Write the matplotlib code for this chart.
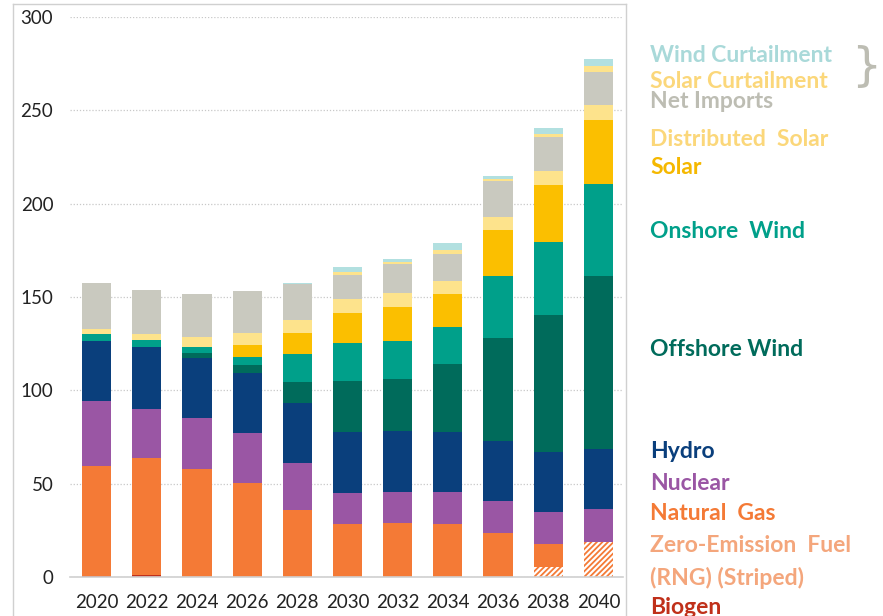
import matplotlib.pyplot as plt
from matplotlib.lines import Line2D


years = ["2020", "2022", "2024", "2026", "2028", "2030", "2032", "2034", "2036", "2038", "2040"]

biogen = [0.8, 1.2, 0, 0, 0, 0, 0, 0, 0, 0, 0]
zero_emission_fuel = [0, 0, 0, 0, 0, 0, 0, 0, 0, 5.3, 19.0]
natural_gas = [58.7, 62.9, 58.2, 50.2, 36.0, 28.3, 28.9, 28.3, 23.5, 12.5, 0]
nuclear = [34.8, 26.2, 26.8, 26.8, 24.9, 17.0, 16.9, 17.1, 17.5, 17.3, 17.4]
hydro = [32.2, 32.7, 32.6, 32.1, 32.5, 32.4, 32.6, 32.5, 31.9, 31.7, 32.2]
offshore_wind = [0, 0, 2.2, 4.4, 11.2, 27.6, 27.6, 36.2, 54.9, 73.5, 92.5]
onshore_wind = [3.9, 4.2, 3.5, 4.5, 14.8, 20.2, 20.5, 19.6, 33.3, 39.2, 49.6]
solar = [0, 0, 0, 6.2, 11.6, 16.0, 18.2, 17.8, 24.6, 30.3, 34.2]
distributed_solar = [2.4, 2.9, 5.4, 6.8, 6.9, 7.2, 7.2, 7.1, 7.1, 7.5, 7.7]
net_imports = [24.7, 23.9, 23.1, 22.2, 19.3, 13.3, 15.5, 14.6, 19.1, 18.3, 17.8]
solar_curtailment = [0, 0, 0, 0, 0, 1.3, 1.4, 2.2, 1.5, 1.8, 3.0]
wind_curtailment = [0, 0, 0, 0, 0.5, 2.8, 1.6, 3.5, 1.2, 3.2, 4.1]

y_ticks = [0, 50, 100, 150, 200, 250, 300]

# (values, bar colour, hatched)
layers = [
    (biogen, "#c0301a", False),
    (zero_emission_fuel, "#f47a36", True),
    (natural_gas, "#f47a36", False),
    (nuclear, "#9a56a4", False),
    (hydro, "#0a3f7c", False),
    (offshore_wind, "#006b5b", False),
    (onshore_wind, "#00a08a", False),
    (solar, "#fbbf00", False),
    (distributed_solar, "#fde38c", False),
    (net_imports, "#c9c9bf", False),
    (solar_curtailment, "#fde38c", False),
    (wind_curtailment, "#b2e0e0", False),
]

# (label, text colour, y pixel centre)
labels = [
    ("Wind Curtailment", "#a9d9d9", 56),
    ("Solar Curtailment", "#fbd77a", 81),
    ("Net Imports", "#bdbdb3", 101),
    ("Distributed  Solar", "#fbd77a", 140),
    ("Solar", "#f5b800", 168),
    ("Onshore  Wind", "#00a08a", 231),
    ("Offshore Wind", "#006b5b", 349),
    ("Hydro", "#0a3f7c", 451),
    ("Nuclear", "#9a56a4", 483),
    ("Natural  Gas", "#f47a36", 514),
    ("Zero-Emission  Fuel", "#f4a67c", 546),
    ("(RNG) (Striped)", "#f4a67c", 578),
    ("Biogen", "#c0301a", 607),
]


def main() -> None:
    plt.rcParams["font.family"] = ["Lato", "DejaVu Sans"]
    plt.rcParams["hatch.linewidth"] = 1.3

    W, H = 883, 616
    fig = plt.figure(figsize=(W / 100, H / 100), dpi=100)
    ax = fig.add_axes([70 / W, (H - 577.3) / H, (623 - 70) / W, (577.3 - 16.7) / H])

    x = list(range(len(years)))
    bottom = [0.0] * len(years)
    for values, color, hatched in layers:
        if hatched:
            ax.bar(x, values, bottom=bottom, width=0.58, color="white",
                   edgecolor=color, hatch="//////", linewidth=0)
        else:
            ax.bar(x, values, bottom=bottom, width=0.58, color=color, linewidth=0)
        bottom = [b + v for b, v in zip(bottom, values)]

    ax.set_xlim(-0.53, 10.49)
    ax.set_ylim(0, 300)
    ax.set_yticks(y_ticks)
    ax.set_xticks(x)
    ax.set_xticklabels(years)
    ax.tick_params(axis="both", length=0, labelsize=13.5, colors="#222222")
    ax.tick_params(axis="y", pad=12)
    ax.tick_params(axis="x", pad=12)
    ax.grid(axis="y", color="#c8c8c8", linestyle=(0, (1, 1.5)), linewidth=0.9)
    ax.set_axisbelow(True)
    for side in ["left", "right", "top"]:
        ax.spines[side].set_visible(False)
    ax.spines["bottom"].set_color("#d0d0d0")
    ax.spines["bottom"].set_linewidth(1.2)

    # chart area border
    for xs, ys in [([13, 626], [4, 4]), ([626, 626], [4, 616]), ([13, 13], [4, 616])]:
        fig.add_artist(Line2D([v / W for v in xs], [1 - v / H for v in ys],
                              color="#d0d0d0", linewidth=1))

    for text, color, yc in labels:
        fig.text(650 / W, 1 - yc / H, text, color=color, fontsize=16.5,
                 fontweight="bold", va="center", ha="left")
    fig.text(851 / W, 1 - 68 / H, "}", color="#bdbdb3", fontsize=34,
             va="center", ha="left", family="DejaVu Sans")

    fig.savefig("out.png", dpi=100)
    plt.close(fig)


if __name__ == "__main__":
    main()
